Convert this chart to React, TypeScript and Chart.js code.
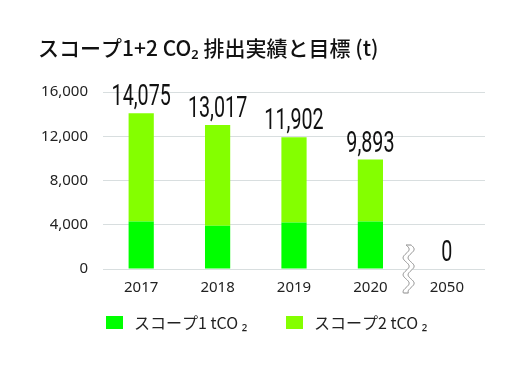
import React, { useEffect, useRef } from "react";
import { Chart, registerables } from "chart.js";

Chart.register(...registerables);

const categories = ["2017", "2018", "2019", "2020", "2050"];
const scope1 = [4300, 3900, 4200, 4300, 0];
const scope2 = [9775, 9117, 7702, 5593, 0];
const totalLabels = ["14,075", "13,017", "11,902", "9,893", "0"];
const seriesNames = ["スコープ1 tCO ₂", "スコープ2 tCO ₂"];
const yTicks = [0, 4000, 8000, 12000, 16000];
const titleText = "スコープ1+2 CO₂ 排出実績と目標 (t)";

const COLOR1 = "#00ff00";
const COLOR2 = "#84ff00";
const CJK = "'Noto Sans CJK JP', 'Noto Sans', sans-serif";

const overlayPlugin = {
  id: "overlay",
  afterDraw(chart: any) {
    const ctx = chart.ctx as CanvasRenderingContext2D;
    const xs = chart.scales.x;
    const ys = chart.scales.y;
    // title
    ctx.save();
    ctx.fillStyle = "#111";
    ctx.font = `500 21px ${CJK}`;
    ctx.textBaseline = "middle";
    ctx.textAlign = "left";
    ctx.fillText(titleText, 38, 48);
    ctx.restore();

    // total labels
    categories.forEach((_, i) => {
      const total = scope1[i] + scope2[i];
      const x = xs.getPixelForValue(i);
      const y = ys.getPixelForValue(total) - 8;
      ctx.save();
      ctx.translate(x, y);
      ctx.scale(0.68, 1);
      ctx.fillStyle = "#111";
      ctx.font = `400 29px Roboto, sans-serif`;
      ctx.textAlign = "center";
      ctx.textBaseline = "alphabetic";
      ctx.fillText(totalLabels[i], 0, 0);
      ctx.restore();
    });

    // wavy break between 2020 and 2050
    const cx = (xs.getPixelForValue(3) + xs.getPixelForValue(4)) / 2;
    const y0 = ys.getPixelForValue(0) - 24;
    const y1 = ys.getPixelForValue(0) + 24;
    const A = 3;
    const P = 17;
    const half = 2.5;
    ctx.save();
    ctx.beginPath();
    for (let y = y0; y <= y1; y += 0.5) {
      const x = cx - half + A * Math.sin((2 * Math.PI * (y - y0)) / P);
      if (y === y0) ctx.moveTo(x, y);
      else ctx.lineTo(x, y);
    }
    for (let y = y1; y >= y0; y -= 0.5) {
      const x = cx + half + A * Math.sin((2 * Math.PI * (y - y0)) / P);
      ctx.lineTo(x, y);
    }
    ctx.closePath();
    ctx.fillStyle = "#fff";
    ctx.fill();
    ctx.strokeStyle = "#8a8a8a";
    ctx.lineWidth = 1;
    ctx.stroke();
    ctx.restore();

    // legend
    const items = [
      { x: 106, color: COLOR1, label: seriesNames[0] },
      { x: 286, color: COLOR2, label: seriesNames[1] },
    ];
    items.forEach((it) => {
      ctx.save();
      ctx.fillStyle = it.color;
      ctx.fillRect(it.x, 316, 17, 13);
      ctx.fillStyle = "#222";
      ctx.font = `400 16px ${CJK}`;
      ctx.textBaseline = "middle";
      ctx.textAlign = "left";
      ctx.fillText(it.label, it.x + 28, 323);
      ctx.restore();
    });
  },
};

export default function App() {
  const ref = useRef<HTMLCanvasElement>(null);
  useEffect(() => {
    document.body.style.margin = "0";
    if (!ref.current) return;
    const chart = new Chart(ref.current, {
      type: "bar",
      data: {
        labels: categories,
        datasets: [
          {
            label: seriesNames[0],
            data: scope1,
            backgroundColor: COLOR1,
            barPercentage: 0.33,
            categoryPercentage: 1,
          },
          {
            label: seriesNames[1],
            data: scope2,
            backgroundColor: COLOR2,
            barPercentage: 0.33,
            categoryPercentage: 1,
          },
        ],
      },
      options: {
        animation: false,
        responsive: false,
        layout: { padding: { left: 0, top: 92, right: 41, bottom: 0 } },
        plugins: {
          legend: { display: false },
          title: { display: false },
          tooltip: { enabled: false },
        },
        scales: {
          x: {
            stacked: true,
            grid: { display: false, drawTicks: false },
            border: { display: false },
            ticks: {
              padding: 10,
              color: "#222",
              font: { family: "'Noto Sans', sans-serif", size: 15 },
            },
            afterFit(scale: any) {
              scale.height = 101;
            },
          },
          y: {
            stacked: true,
            min: 0,
            max: 16000,
            afterBuildTicks(scale: any) {
              scale.ticks = yTicks.map((v) => ({ value: v }));
            },
            grid: { color: "#d8dedf", drawTicks: false, lineWidth: 1 },
            border: { display: false },
            ticks: {
              padding: 15,
              color: "#222",
              font: { family: "'Noto Sans', sans-serif", size: 15 },
              callback: (v: any) => Number(v).toLocaleString("en-US"),
            },
            afterFit(scale: any) {
              scale.width = 103;
            },
          },
        },
      },
      plugins: [overlayPlugin],
    });
    return () => chart.destroy();
  }, []);
  return <canvas ref={ref} width={526} height={370} style={{ display: "block" }} />;
}
